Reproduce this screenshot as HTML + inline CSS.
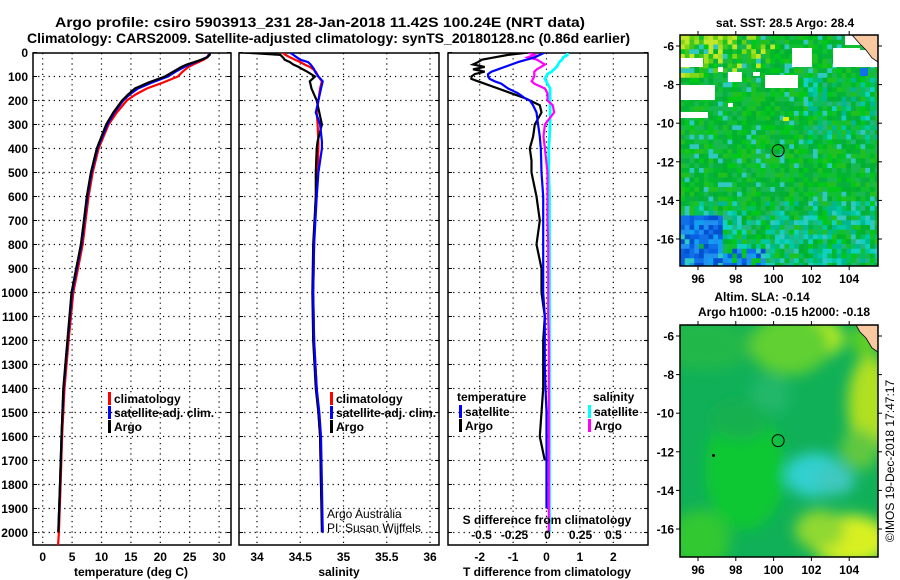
<!DOCTYPE html>
<html><head><meta charset="utf-8">
<style>
html,body{margin:0;padding:0;background:#fff;}
svg{display:block;font-family:"Liberation Sans",sans-serif;}
.b{font-weight:bold;font-size:12px;}
.t{font-weight:bold;font-size:14px;}
</style></head>
<body>
<svg id="fig" width="900" height="580" viewBox="0 0 900 580" xmlns="http://www.w3.org/2000/svg">
<defs>
<clipPath id="c1"><rect x="33" y="53" width="198" height="492"/></clipPath>
<clipPath id="c2"><rect x="239" y="53" width="200" height="492"/></clipPath>
<clipPath id="c3"><rect x="448" y="53" width="200" height="492"/></clipPath>
<clipPath id="cm1"><rect x="680" y="35" width="198" height="231"/></clipPath>
<clipPath id="cm2"><rect x="680" y="325" width="198" height="232"/></clipPath>
<filter id="blur" x="-50%" y="-50%" width="200%" height="200%"><feGaussianBlur stdDeviation="7"/></filter>
</defs>
<text class="t" x="55" y="27" textLength="530" lengthAdjust="spacingAndGlyphs">Argo profile: csiro 5903913_231 28-Jan-2018 11.42S 100.24E (NRT data)</text>
<text class="t" x="27" y="43" textLength="603" lengthAdjust="spacingAndGlyphs">Climatology: CARS2009. Satellite-adjusted climatology: synTS_20180128.nc (0.86d earlier)</text>
<g id="grid"></g>
<g id="series"></g>
<g id="maps"></g>
<text x="894" y="461" font-size="12" text-anchor="middle" transform="rotate(-90 894 461)">©IMOS 19-Dec-2018 17:47:17</text>
</svg>
<script>
// ---- data ----
const depthT = [0,10,20,30,40,50,60,80,100,125,150,175,200,250,300,400,500,600,700,800,900,1000,1200,1400,1600,1800,2000,2060];
const tempArgo = [28.5,28.4,28.0,27.0,25.8,24.5,23.6,22.2,20.8,18.0,15.7,14.5,13.5,12.0,10.8,9.2,8.2,7.5,7.0,6.5,5.7,4.9,4.2,3.5,3.2,2.95,2.65,null];
const tempClim = [28.3,28.2,28.0,27.4,26.5,25.6,24.8,23.8,23.0,20.5,17.7,15.8,14.3,12.6,11.2,9.5,8.5,7.8,7.3,6.8,6.0,5.2,4.4,3.7,3.3,3.05,2.75,2.6];
const tempSat = [28.4,28.3,27.9,27.0,26.0,25.0,24.1,22.6,21.3,18.6,16.2,14.8,13.7,12.2,11.0,9.3,8.3,7.6,7.1,6.6,5.8,5.0,4.25,3.55,3.2,2.95,2.65,null];
const depthS = [0,10,20,30,40,50,60,70,80,100,120,150,200,250,300,370,400,500,600,800,1000,1200,1400,1500,1600,1800,2000];
const salArgo = [33.84,34.27,34.3,34.32,34.38,34.42,34.48,34.53,34.58,34.67,34.61,34.63,34.69,34.72,34.75,34.70,34.69,34.68,34.68,34.65,34.64,34.65,34.68,34.71,34.73,34.74,34.75];
const salClim = [34.29,34.33,34.38,34.44,34.5,34.55,34.61,34.65,34.68,34.71,34.75,34.73,34.71,34.69,34.70,34.71,34.71,34.70,34.68,34.66,34.65,34.66,34.69,34.71,34.73,34.74,34.76];
const salSat = [34.38,34.42,34.46,34.5,34.59,34.62,34.64,34.66,34.67,34.71,34.76,34.74,34.71,34.68,34.73,34.75,34.75,34.71,34.69,34.66,34.65,34.66,34.69,34.72,34.74,34.75,34.76];
const depthD = [0,10,20,30,40,50,60,70,80,90,100,110,120,130,150,170,190,200,220,250,300,350,400,450,500,600,700,800,900,1000,1100,1200,1300,1400,1500,1600,1700,1800,1900,2000];
const tDiffArgo = [-0.55,-1.15,-1.55,-1.93,-2.05,-2.2,-1.85,-2.2,-1.85,-2.15,-2.25,-2.25,-2.05,-1.85,-1.45,-1.05,-0.65,-0.5,-0.2,-0.15,-0.35,-0.4,-0.5,-0.45,-0.45,-0.3,-0.2,-0.3,-0.15,-0.15,-0.05,-0.1,-0.1,-0.1,-0.15,-0.2,-0.05,null,null,null];
const tDiffSat = [-0.05,-0.2,-0.35,-0.6,-0.85,-1.05,-1.25,-1.45,-1.65,-1.75,-1.75,-1.7,-1.55,-1.35,-1.15,-0.85,-0.65,-0.5,-0.4,-0.3,-0.25,-0.2,-0.17,-0.16,-0.15,-0.1,-0.1,-0.1,-0.1,-0.1,-0.05,-0.05,-0.05,-0.03,0,0,0,0,0,null];
const sDiffArgo = [-0.15,-0.1,-0.15,-0.08,-0.05,-0.02,-0.05,-0.08,-0.1,-0.1,-0.1,-0.11,-0.12,-0.1,-0.02,0,0,0,0.04,0.05,-0.02,-0.03,-0.02,-0.01,0,0,0,0.005,0.005,0.005,0.005,0.01,0.01,0.01,0.01,0.01,0.01,0.01,0.01,0.01];
const sDiffSat = [0.15,0.15,0.12,0.11,0.09,0.08,0.07,0.05,0.03,0,-0.01,-0.02,-0.01,0,0.02,0.02,0.02,0.02,0.02,0.02,0.02,0.015,0.01,0.01,0.01,0.015,0.015,0.015,0.015,0.015,0.015,0.015,0.015,0.015,0.015,0.015,0.015,0.015,0.015,0.015];
const depthTicks = [0,100,200,300,400,500,600,700,800,900,1000,1100,1200,1300,1400,1500,1600,1700,1800,1900,2000];
const tempTicks = [0,5,10,15,20,25,30];
const salTicks = [34,34.5,35,35.5,36];
const tdTicks = [-2,-1,0,1,2];
const sdTicks = [-0.5,-0.25,0,0.25,0.5];
const sdTickLabels = ['-0.5','-0.25','0','0.25','0.5'];
const lonTicks = [96,98,100,102,104];
const latTicks = [-6,-8,-10,-12,-14,-16];

// ---- scales ----
const yD = d => 52.5 + d*0.24;
const xT = t => 42.7 + t*5.88;
const xS = s => 257 + (s-34)*86.5;
const xTd = v => 546.5 + v*33.4;
const xSd = v => 547.5 + v*132;
const xLon = lon => 698 + (lon-96)*18.9;
const yLat1 = lat => 46 + (-6-lat)*19.3;
const yLat2 = lat => 336 + (-6-lat)*19.3;

const NS='http://www.w3.org/2000/svg';
function mk(tag, attrs, parent, txt){
  const e=document.createElementNS(NS,tag);
  for(const k in attrs) e.setAttribute(k,attrs[k]);
  if(txt!==undefined) e.textContent=txt;
  parent.appendChild(e); return e;
}
const grid=document.getElementById('grid');
const series=document.getElementById('series');
const maps=document.getElementById('maps');

const panels=[
 {x0:33,x1:231,name:'temperature-panel',vt:tempTicks,xf:xT,lab:tempTicks.map(String),title:'temperature (deg C)',tx:131},
 {x0:239,x1:439,name:'salinity-panel',vt:salTicks,xf:xS,lab:salTicks.map(String),title:'salinity',tx:339},
 {x0:448,x1:648,name:'difference-panel',vt:tdTicks,xf:xTd,lab:tdTicks.map(String),title:'T difference from climatology',tx:547}
];
panels.forEach((p,pi)=>{
  const g=mk('g',{},grid);
  
  
  depthTicks.forEach(d=>{
    if(d>0){
      const l=mk('line',{x1:p.x0,x2:p.x1,y1:yD(d),y2:yD(d),stroke:'#000','stroke-width':1.2,'stroke-dasharray':'1.2 4'},g);
      
      
    }
    mk('line',{x1:p.x0,x2:p.x0+4,y1:yD(d),y2:yD(d),stroke:'#000'},g);
    mk('line',{x1:p.x1-4,x2:p.x1,y1:yD(d),y2:yD(d),stroke:'#000'},g);
    if(pi===0){
      const t=mk('text',{x:28,y:yD(d)+4.5,'text-anchor':'end',class:'b'},g,String(d));
      
      
    }
  });
  p.vt.forEach((v,i)=>{
    const x=p.xf(v);
    const l=mk('line',{x1:x,x2:x,y1:53,y2:545,stroke:'#000','stroke-width':1.2,'stroke-dasharray':'1.2 4'},g);
    
    
    const t=mk('text',{x:x,y:561,'text-anchor':'middle',class:'b'},g,p.lab[i]);
    
    
  });
  const r=mk('rect',{x:p.x0,y:53,width:p.x1-p.x0,height:492,fill:'none',stroke:'#000','stroke-width':1.5},g);
  
  
  const tt=mk('text',{x:p.tx,y:576,'text-anchor':'middle',class:'b'},g,p.title);
  
  
});

function line(depths, vals, xf, color, clip, name, w){
  let pts=[];
  depths.forEach((d,i)=>{ if(vals[i]!==null && vals[i]!==undefined) pts.push(xf(vals[i]).toFixed(1)+','+yD(d).toFixed(1)); });
  const pl=mk('polyline',{points:pts.join(' '),fill:'none',stroke:color,'stroke-width':w||2.2,'clip-path':'url(#'+clip+')','stroke-linejoin':'miter'},series);
  
  
}
line(depthT,tempClim,xT,'#ff0000','c1','temperature-climatology-line');
line(depthT,tempSat,xT,'#0000ff','c1','temperature-satellite-line');
line(depthT,tempArgo,xT,'#000000','c1','temperature-argo-line');
line(depthS,salClim,xS,'#ff0000','c2','salinity-climatology-line');
line(depthS,salArgo,xS,'#000000','c2','salinity-argo-line');
line(depthS,salSat,xS,'#0000ff','c2','salinity-satellite-line');
line(depthD,sDiffSat,xSd,'#00ffff','c3','salinity-satellite-diff-line',2.8);
line(depthD,sDiffArgo,xSd,'#ff00ff','c3','salinity-argo-diff-line');
line(depthD,tDiffArgo,xTd,'#000000','c3','temperature-argo-diff-line');
line(depthD,tDiffSat,xTd,'#0000ff','c3','temperature-satellite-diff-line');

function legItem(x,y,color,label,name){
  const g=mk('g',{},series);
  
  
  mk('rect',{x:x,y:y-10,width:3,height:13,fill:color},g);
  mk('text',{x:x+6,y:y+1,class:'b'},g,label);
}
legItem(108,402,'#ff0000','climatology','legend-entry-climatology');
legItem(108,416,'#0000ff','satellite-adj. clim.','legend-entry-satellite-adj');
legItem(108,430,'#000000','Argo','legend-entry-argo');
legItem(330,402,'#ff0000','climatology','legend-entry-climatology-sal');
legItem(330,416,'#0000ff','satellite-adj. clim.','legend-entry-satellite-adj-sal');
legItem(330,430,'#000000','Argo','legend-entry-argo-sal');
(function(){
  const t=mk('text',{x:457,y:401,class:'b'},series,'temperature');
  
  
  const s=mk('text',{x:593,y:401,class:'b'},series,'salinity');
  
  
})();
legItem(459,415,'#0000ff','satellite','legend-entry-t-satellite');
legItem(459,429,'#000000','Argo','legend-entry-t-argo');
legItem(588,415,'#00ffff','satellite','legend-entry-s-satellite');
legItem(588,429,'#ff00ff','Argo','legend-entry-s-argo');
(function(){
  const t=mk('text',{x:547,y:524,'text-anchor':'middle',class:'b'},series,'S difference from climatology');
  
  
  sdTicks.forEach((v,i)=>{
    const l=mk('text',{x:xSd(v),y:539,'text-anchor':'middle',class:'b'},series,sdTickLabels[i]);
    
    
  });
  const a=mk('text',{x:327,y:518,'font-size':12},series,'Argo Australia');
  
  
  const b=mk('text',{x:327,y:532,'font-size':12},series,'PI: Susan Wijffels');
  
  
})();

// ---- maps ----
function hash(i,j){let h=(i*374761393+j*668265263)^0x5bd1e995;h=(h^(h>>>13))*1274126177;h=h^(h>>>16);return (h>>>0)/4294967296;}
function mapAxes(y0,h,yLat,name,titleLines){
  const g=mk('g',{},maps);
  
  
  mk('rect',{x:680,y:y0,width:198,height:h,fill:'none',stroke:'#000','stroke-width':1.5},g);
  lonTicks.forEach(l=>{
    const x=xLon(l);
    mk('line',{x1:x,x2:x,y1:y0,y2:y0-4,stroke:'#000'},g);
    mk('line',{x1:x,x2:x,y1:y0+h,y2:y0+h+4,stroke:'#000'},g);
    const t=mk('text',{x:x,y:y0+h+17,'text-anchor':'middle',class:'b'},g,String(l));
    
    
  });
  latTicks.forEach(l=>{
    const y=yLat(l);
    mk('line',{x1:676,x2:680,y1:y,y2:y,stroke:'#000'},g);
    mk('line',{x1:878,x2:882,y1:y,y2:y,stroke:'#000'},g);
    const t=mk('text',{x:674,y:y+4.5,'text-anchor':'end',class:'b'},g,String(l));
    
    
  });
  titleLines.forEach((s,i)=>{
    const t=mk('text',{x:s[1],y:s[2],'text-anchor':'middle',class:'b'},g,s[0]);
    
    
  });
}
(function(){
  const g=mk('g',{'clip-path':'url(#cm1)'},maps);
  
  
  mk('rect',{x:680,y:35,width:198,height:231,fill:'#06b838'},g);
  const cs=4.75;
  const greens=['#00b82c','#10c030','#08b040','#00c818','#18b850','#00b030','#20c020'];
  const yel=['#a0e020','#80d818','#c0e828','#60d010','#40c820'];
  const blue=['#1070e8','#0860e0','#2090f0','#0050d0','#10a0f0'];
  const cyan=['#00c8a0','#10d0c0','#00b890','#20b880','#00c060'];
  for(let i=0;i<42;i++)for(let j=0;j<49;j++){
    const u=i/42,v=j/49,r=hash(i,j),r2=hash(j+7,i+3);
    let c=greens[Math.floor(r*greens.length)];
    if(v<0.17 && u<0.5 && r2<(0.9-u*1.4-v*2)) c=yel[Math.floor(r*yel.length)];
    else if(v>0.76 && u<0.21 && r2<0.9) c=blue[Math.floor(r*blue.length)];
    else if(v>0.9 && u<0.42 && r2<0.7) c=blue[Math.floor(r*blue.length)];
    else if(v>0.7 && r2<0.35+ (v-0.7)) c=cyan[Math.floor(r*cyan.length)];
    else if(u>0.6 && v>0.18 && v<0.45 && r2<0.4) c=cyan[Math.floor(r*cyan.length)];
    else if(r2>0.93) c='#30c8c0';
    mk('rect',{x:680+i*cs,y:35+j*cs,width:cs+0.3,height:cs+0.3,fill:c},g);
  }
  [[680,58,23,9],[680,85,35,15],[680,112,28,6],[718,67,5,5],[728,72,14,10],[753,72,7,4],[765,75,33,13],[792,48,20,19],[833,48,27,19],[845,35,33,10],[857,50,21,17],[728,103,5,4]].forEach(w=>mk('rect',{x:w[0],y:w[1],width:w[2],height:w[3],fill:'#fff'},g));
  mk('rect',{x:860,y:68,width:8,height:8,fill:'#1070e8'},g);
  mk('rect',{x:783,y:117,width:6,height:4,fill:'#e0f000'},g);
  mk('path',{d:'M852,35 L878,35 L878,62 L872,58 L866,50 L860,44 Z',fill:'#f8c8a0',stroke:'#000','stroke-width':0.8},g);
  const c=mk('circle',{cx:xLon(100.24),cy:yLat1(-11.42),r:6,fill:'none',stroke:'#000','stroke-width':1},g);
  
  
})();
mapAxes(35,231,yLat1,'sst-map',[['sat. SST: 28.5 Argo: 28.4',785,27]]);
(function(){
  const g=mk('g',{'clip-path':'url(#cm2)'},maps);
  
  
  mk('rect',{x:680,y:325,width:198,height:232,fill:'#10b058'},g);
  const fg=mk('g',{filter:'url(#blur)'},g);
  [[745,470,40,60,'#10c830'],[700,540,30,30,'#30c830'],[705,345,50,25,'#20b848'],[770,395,20,20,'#20b86a'],
   [808,338,36,22,'#b8ec20'],[790,345,40,30,'#60d030'],[870,405,22,50,'#b0e020'],[860,450,20,20,'#60c840'],
   [850,540,40,25,'#d8f020'],[820,530,25,20,'#90d830'],[815,475,30,22,'#30d0d0'],[835,480,20,15,'#40c8c0'],
   [740,420,30,20,'#18b050'],[865,340,15,15,'#60d020']].forEach(b=>mk('ellipse',{cx:b[0],cy:b[1],rx:b[2],ry:b[3],fill:b[4]},fg));
  mk('path',{d:'M856,325 L878,325 L878,352 L872,348 L866,338 L860,332 Z',fill:'#f8c8a0',stroke:'#000','stroke-width':0.8},g);
  mk('circle',{cx:713.5,cy:455.5,r:1.5,fill:'#000'},g);
  const c=mk('circle',{cx:xLon(100.24),cy:yLat2(-11.42),r:6,fill:'none',stroke:'#000','stroke-width':1},g);
  
  
})();
mapAxes(325,232,yLat2,'sla-map',[['Altim. SLA: -0.14',762,301],['Argo h1000: -0.15 h2000: -0.18',784,316]]);
</script>
</body></html>
